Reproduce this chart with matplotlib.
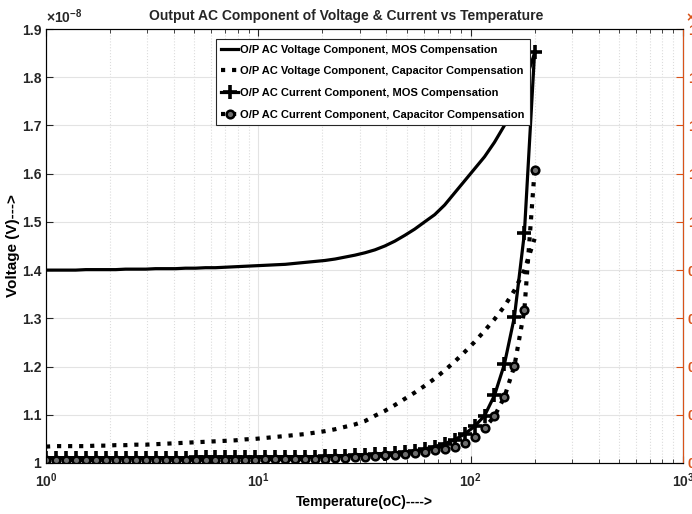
import matplotlib
matplotlib.use('Agg')
import matplotlib.pyplot as plt

plt.rcParams['font.family'] = ['Liberation Sans', 'DejaVu Sans']
plt.rcParams['font.weight'] = 'bold'
plt.rcParams['mathtext.fontset'] = 'custom'
plt.rcParams['mathtext.rm'] = 'Liberation Sans'
plt.rcParams['mathtext.bf'] = 'Liberation Sans:bold'

# temperature grid (oC), log spaced 1 .. 200
temp = [1.00, 1.11, 1.24, 1.38, 1.54, 1.72, 1.91, 2.13, 2.37, 2.64,
        2.95, 3.28, 3.66, 4.08, 4.54, 5.06, 5.64, 6.28, 7.00, 7.79,
        8.68, 9.67, 10.8, 12.0, 13.4, 14.9, 16.6, 18.5, 20.6, 23.0,
        25.6, 28.5, 31.8, 35.4, 39.4, 43.9, 48.9, 54.5, 60.7, 67.7,
        75.4, 84.0, 93.6, 104.3, 116.2, 129.4, 144.2, 160.7, 179.0, 200.0]

# values in units of 1e-8
v_mos = [1.400, 1.400, 1.400, 1.400, 1.401, 1.401, 1.401, 1.401, 1.402, 1.402,
         1.402, 1.403, 1.403, 1.403, 1.404, 1.404, 1.405, 1.405, 1.406, 1.407,
         1.408, 1.409, 1.410, 1.411, 1.412, 1.414, 1.416, 1.418, 1.420, 1.423,
         1.427, 1.431, 1.436, 1.442, 1.450, 1.460, 1.472, 1.485, 1.500, 1.515,
         1.535, 1.560, 1.585, 1.610, 1.635, 1.665, 1.700, 1.740, 1.785, 1.850]

v_cap = [1.034, 1.035, 1.035, 1.035, 1.035, 1.036, 1.036, 1.037, 1.037, 1.038,
         1.038, 1.039, 1.040, 1.041, 1.042, 1.043, 1.044, 1.045, 1.046, 1.047,
         1.049, 1.050, 1.052, 1.054, 1.056, 1.058, 1.060, 1.063, 1.066, 1.070,
         1.075, 1.080, 1.087, 1.098, 1.108, 1.120, 1.133, 1.146, 1.160, 1.175,
         1.192, 1.210, 1.230, 1.251, 1.274, 1.298, 1.325, 1.358, 1.400, 1.465]

i_mos = [1.011, 1.011, 1.011, 1.011, 1.011, 1.011, 1.011, 1.011, 1.011, 1.011,
         1.011, 1.011, 1.011, 1.011, 1.011, 1.012, 1.012, 1.012, 1.012, 1.012,
         1.012, 1.012, 1.012, 1.012, 1.013, 1.013, 1.013, 1.013, 1.014, 1.014,
         1.015, 1.016, 1.017, 1.018, 1.019, 1.020, 1.022, 1.025, 1.029, 1.034,
         1.040, 1.048, 1.060, 1.076, 1.098, 1.140, 1.205, 1.303, 1.476, 1.852]

i_cap = [1.006, 1.006, 1.006, 1.006, 1.006, 1.006, 1.006, 1.006, 1.006, 1.006,
         1.006, 1.006, 1.006, 1.007, 1.007, 1.007, 1.007, 1.007, 1.007, 1.007,
         1.007, 1.007, 1.008, 1.008, 1.008, 1.008, 1.008, 1.009, 1.009, 1.010,
         1.011, 1.012, 1.013, 1.014, 1.016, 1.017, 1.019, 1.021, 1.023, 1.026,
         1.030, 1.034, 1.041, 1.054, 1.072, 1.097, 1.137, 1.201, 1.317, 1.607]

labels = ['O/P AC Voltage Component, MOS Compensation',
          'O/P AC Voltage Component, Capacitor Compensation',
          'O/P AC Current Component, MOS Compensation',
          'O/P AC Current Component, Capacitor Compensation']

y_ticks = [1.0, 1.1, 1.2, 1.3, 1.4, 1.5, 1.6, 1.7, 1.8, 1.9]
y_ticklabels = ['1', '1.1', '1.2', '1.3', '1.4', '1.5', '1.6', '1.7', '1.8', '1.9']
right_ticklabels = ['0', '0.2', '0.4', '0.6', '0.8', '1', '1.2', '1.4', '1.6', '1.8']
x_ticks = [1, 10, 100, 1000]
x_ticklabels = [r'$\mathbf{10^{0}}$', r'$\mathbf{10^{1}}$', r'$\mathbf{10^{2}}$', r'$\mathbf{10^{3}}$']

orange = '#D95319'
axcol = '#262626'

fig = plt.figure(figsize=(6.92, 5.14), dpi=100)
ax = fig.add_axes([46 / 692, 51 / 514, 637 / 692, 434 / 514])

ax.plot(temp, v_mos, color='black', lw=2.3, label=labels[0])
ax.plot(temp, v_cap, color='black', lw=3, ls=':', label=labels[1])
ax.plot(temp, i_mos, color='black', lw=2.3, marker='+', ms=10, mew=2.6, label=labels[2])
ax.plot(temp, i_cap, color='black', lw=3, ls=':', marker='o', ms=5.5,
        mfc='#6e6e6e', mec='black', mew=1.8, label=labels[3])

ax.set_xscale('log')
ax.set_xlim(1, 1000)
ax.set_ylim(1.0, 1.9)
ax.set_xticks(x_ticks)
ax.set_xticklabels(x_ticklabels)
ax.set_yticks(y_ticks)
ax.set_yticklabels(y_ticklabels)

ax.grid(True, which='major', color='#e3e3e3', lw=0.8)
ax.grid(True, which='minor', axis='x', color='#dcdcdc', lw=0.8, ls=':')
ax.set_axisbelow(True)

ax.tick_params(which='both', direction='in', top=True, right=False, colors=axcol, labelsize=10)
ax.tick_params(which='major', length=5, width=0.8)
ax.tick_params(which='minor', length=3, width=0.6)
ax.tick_params(axis='x', pad=6)
for sp in ['left', 'bottom', 'top']:
    ax.spines[sp].set_color(axcol)

ax.set_xlabel('Temperature(oC)---->', fontsize=10, fontweight='bold', labelpad=4)
ax.set_ylabel('Voltage (V)--->', fontsize=11, fontweight='bold', labelpad=1)
ax.text(0.0, 1.008, r'$\times\mathregular{10^{-8}}$', transform=ax.transAxes,
        fontsize=10, ha='left', va='bottom', color=axcol)

ax2 = ax.twinx()
ax2.set_ylim(1.0, 1.9)
ax2.set_yticks(y_ticks)
ax2.set_yticklabels(right_ticklabels)
ax2.tick_params(axis='y', direction='in', length=5, colors=orange, labelsize=10)
ax2.spines['right'].set_color(orange)
ax2.text(1.005, 1.008, r'$\times\mathregular{10^{-8}}$', transform=ax.transAxes,
         fontsize=10, ha='left', va='bottom', color=orange)

leg = ax.legend(loc='upper right', bbox_to_anchor=(0.760, 0.977), borderaxespad=0,
                fontsize=8, handlelength=1.5, handletextpad=0.2, labelspacing=1.05,
                fancybox=False, framealpha=1, edgecolor=axcol, borderpad=0.5)
for t in leg.get_texts():
    t.set_fontweight('bold')
leg.get_frame().set_linewidth(0.8)

fig.text(0.5, 1 - 16 / 514, 'Output AC Component of Voltage & Current vs Temperature',
         ha='center', va='center', fontsize=10, fontweight='bold', color=axcol)

fig.savefig('out.png', dpi=100)
